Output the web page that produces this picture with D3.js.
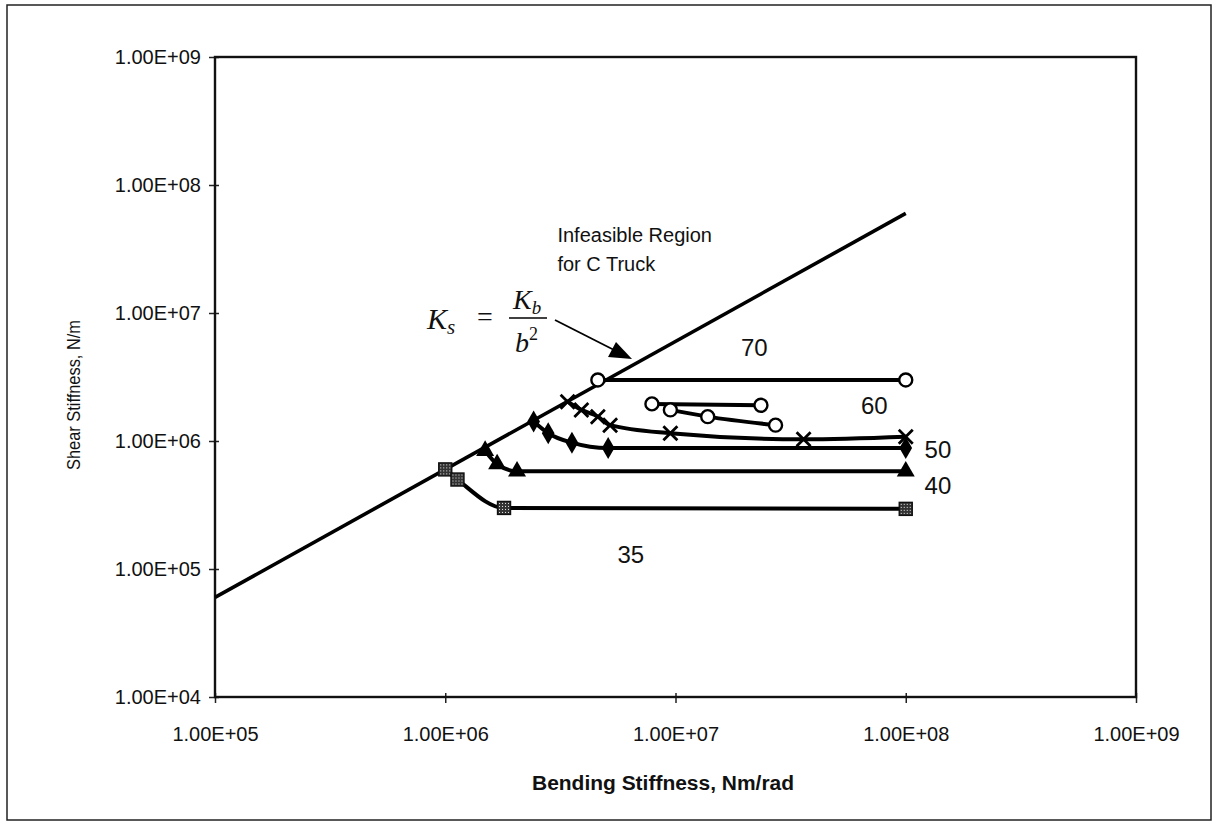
<!DOCTYPE html>
<html>
<head>
<meta charset="utf-8">
<script src="https://cdn.jsdelivr.net/npm/d3@7"></script>
<style>
  body { margin: 0; background: #fff; }
  text { font-family: "Liberation Sans", Arial, sans-serif; fill: #111; }
</style>
</head>
<body>
<div id="chart"></div>
<script>
// boundary line Ks = Kb / b^2
var lineKb = [1e5, 1e8];
var lineKs = [6e4, 6e7];

// curves
var kb70 = [4.6e6, 1e8];
var ks70 = [3.0e6, 3.0e6];
var kb60a = [7.9e6, 2.35e7];
var ks60a = [1.95e6, 1.9e6];
var kb60b = [9.5e6, 1.38e7, 2.72e7];
var ks60b = [1.75e6, 1.55e6, 1.33e6];
var kbX = [3.4e6, 3.9e6, 4.6e6, 5.2e6, 9.5e6, 3.6e7, 1e8];
var ksX = [2.03e6, 1.75e6, 1.55e6, 1.33e6, 1.15e6, 1.03e6, 1.08e6];
var kb50 = [2.42e6, 2.8e6, 3.55e6, 5.1e6, 1e8];
var ks50 = [1.42e6, 1.15e6, 9.7e5, 8.8e5, 8.8e5];
var kb40 = [1.49e6, 1.68e6, 2.05e6, 1e8];
var ks40 = [8.4e5, 6.6e5, 5.8e5, 5.8e5];
var kb35 = [1.0e6, 1.13e6, 1.8e6, 1e8];
var ks35 = [6e5, 5e5, 3e5, 2.95e5];

var xTicks = [1e5, 1e6, 1e7, 1e8, 1e9];
var yTicks = [1e4, 1e5, 1e6, 1e7, 1e8, 1e9];

var curveLabels = ["70", "60", "50", "40", "35"];
var labelKb = [2.2e7, 7.3e7, 1.38e8, 1.38e8, 6.4e6];
var labelKs = [5.4e6, 1.9e6, 8.5e5, 4.5e5, 1.3e5];

var series = [
    {kb: kb70, ks: ks70, m: "circle"},
    {kb: kb60a, ks: ks60a, m: "circle"},
    {kb: kb60b, ks: ks60b, m: "circle"},
    {kb: kbX, ks: ksX, m: "cross"},
    {kb: kb50, ks: ks50, m: "diamond"},
    {kb: kb40, ks: ks40, m: "triangle"},
    {kb: kb35, ks: ks35, m: "square"}
];

var W = 1215, H = 825;
var margin = {top: 57, right: 79, bottom: 128, left: 215};
var width = W - margin.left - margin.right,
    height = H - margin.top - margin.bottom;

var svg = d3.select("#chart").append("svg")
    .attr("width", W)
    .attr("height", H);

// outer chart border
svg.append("rect")
    .attr("x", 7).attr("y", 5)
    .attr("width", 1204).attr("height", 815)
    .attr("fill", "none").attr("stroke", "#222").attr("stroke-width", 1.5);

var defs = svg.append("defs");
var pat = defs.append("pattern")
    .attr("id", "dots")
    .attr("width", 3).attr("height", 3)
    .attr("patternUnits", "userSpaceOnUse");
pat.append("rect").attr("width", 3).attr("height", 3).attr("fill", "#333");
pat.append("rect").attr("x", 1).attr("y", 1).attr("width", 1).attr("height", 1).attr("fill", "#eee");

var g = svg.append("g")
    .attr("transform", "translate(" + margin.left + "," + margin.top + ")");

var x = d3.scaleLog().domain([1e5, 1e9]).range([0, width]);
var y = d3.scaleLog().domain([1e4, 1e9]).range([height, 0]);

function fmtE(d) {
    var e = Math.round(Math.log10(d));
    return "1.00E+" + (e < 10 ? "0" + e : e);
}

var xAxis = g.append("g")
    .attr("transform", "translate(0," + height + ")")
    .call(d3.axisBottom(x).tickValues(xTicks).tickFormat(fmtE).tickSizeInner(6).tickSizeOuter(0).tickPadding(24));
var yAxis = g.append("g")
    .call(d3.axisLeft(y).tickValues(yTicks).tickFormat(fmtE).tickSizeInner(6).tickSizeOuter(0).tickPadding(8));
[xAxis, yAxis].forEach(function(a) {
    a.select(".domain").remove();
    a.selectAll(".tick line").attr("stroke", "#222").attr("stroke-width", 1.5);
    a.selectAll(".tick text")
        .style("font-family", "'Liberation Sans', Arial, sans-serif")
        .style("font-size", "20px")
        .attr("fill", "#111");
});
xAxis.selectAll(".tick line").attr("y1", -4);
yAxis.selectAll(".tick line").attr("x1", 4).attr("x2", -6);

// plot frame
g.append("rect")
    .attr("width", width).attr("height", height)
    .attr("fill", "none").attr("stroke", "#111").attr("stroke-width", 2.4);

// boundary line
g.append("path")
    .datum(lineKb.map(function(d, i) { return [d, lineKs[i]]; }))
    .attr("d", d3.line().x(function(d) { return x(d[0]); }).y(function(d) { return y(d[1]); }))
    .attr("fill", "none").attr("stroke", "#000").attr("stroke-width", 3.6);

var curve = d3.line()
    .x(function(d) { return x(d[0]); })
    .y(function(d) { return y(d[1]); })
    .curve(d3.curveMonotoneX);

series.forEach(function(s) {
    var pts = s.kb.map(function(d, i) { return [d, s.ks[i]]; });
    g.append("path")
        .datum(pts)
        .attr("d", curve)
        .attr("fill", "none").attr("stroke", "#000").attr("stroke-width", 4);

    var mk = g.selectAll(null).data(pts).enter().append("g")
        .attr("transform", function(d) { return "translate(" + x(d[0]) + "," + y(d[1]) + ")"; });
    if (s.m == "circle") {
        mk.append("circle").attr("r", 6.5).attr("fill", "#fff").attr("stroke", "#000").attr("stroke-width", 2.4);
    } else if (s.m == "cross") {
        mk.append("path").attr("d", "M-7,-7L7,7M-7,7L7,-7")
            .attr("stroke", "#000").attr("stroke-width", 2.8);
    } else if (s.m == "diamond") {
        mk.append("path").attr("d", d3.symbol().type(d3.symbolDiamond).size(140)).attr("fill", "#000");
    } else if (s.m == "triangle") {
        mk.append("path").attr("d", d3.symbol().type(d3.symbolTriangle).size(140)).attr("fill", "#000");
    } else {
        mk.append("rect").attr("x", -6.5).attr("y", -6.5).attr("width", 13).attr("height", 13)
            .attr("fill", "url(#dots)").attr("stroke", "#111").attr("stroke-width", 1.4);
    }
});

// curve labels
g.selectAll(".clab").data(curveLabels).enter().append("text")
    .attr("class", "clab")
    .attr("x", function(d, i) { return x(labelKb[i]); })
    .attr("y", function(d, i) { return y(labelKs[i]); })
    .attr("dy", "0.35em")
    .attr("text-anchor", "middle")
    .style("font-size", "24px")
    .text(function(d) { return d; });

// region note
var note = g.append("text")
    .attr("x", x(3.07e6)).attr("y", y(4.1e7))
    .attr("dy", "0.35em")
    .style("font-size", "20px");
note.append("tspan").text("Infeasible Region");
note.append("tspan").attr("x", x(3.07e6)).attr("dy", "1.45em").text("for C Truck");

// formula Ks = Kb / b^2
var fx = 427 - margin.left, fy = 318 - margin.top;
var ff = "'Liberation Serif', 'Times New Roman', serif";
var fm = g.append("g").attr("transform", "translate(" + fx + "," + fy + ")");
fm.append("text").attr("x", 0).attr("y", 11)
    .style("font-family", ff).style("font-style", "italic").style("font-size", "30px")
    .html("K<tspan dy='5' font-size='21'>s</tspan>");
fm.append("text").attr("x", 50).attr("y", 8)
    .style("font-family", ff).style("font-size", "28px").text("=");
fm.append("line").attr("x1", 82).attr("x2", 120).attr("y1", 0).attr("y2", 0)
    .attr("stroke", "#000").attr("stroke-width", 1.5);
fm.append("text").attr("x", 86).attr("y", -9)
    .style("font-family", ff).style("font-style", "italic").style("font-size", "28px")
    .html("K<tspan dy='5' font-size='19'>b</tspan>");
fm.append("text").attr("x", 88).attr("y", 34)
    .style("font-family", ff).style("font-style", "italic").style("font-size", "28px")
    .html("b<tspan dy='-12' font-size='18' font-style='normal'>2</tspan>");

// arrow
g.append("line")
    .attr("x1", 555 - margin.left).attr("y1", 320 - margin.top)
    .attr("x2", 620 - margin.left).attr("y2", 353 - margin.top)
    .attr("stroke", "#000").attr("stroke-width", 1.8);
g.append("path")
    .attr("d", "M" + (632 - margin.left) + "," + (359 - margin.top) + "l-24,-2l8,-15z")
    .attr("fill", "#000");

// axis titles
svg.append("text")
    .attr("x", 663).attr("y", 783)
    .attr("dy", "0.35em")
    .attr("text-anchor", "middle")
    .attr("textLength", 262)
    .attr("lengthAdjust", "spacingAndGlyphs")
    .style("font-size", "20px").style("font-weight", "bold")
    .text("Bending Stiffness, Nm/rad");

svg.append("text")
    .attr("transform", "translate(73,395) rotate(-90)")
    .attr("dy", "0.35em")
    .attr("text-anchor", "middle")
    .attr("textLength", 150)
    .attr("lengthAdjust", "spacingAndGlyphs")
    .style("font-size", "19px")
    .text("Shear Stiffness, N/m");
</script>
</body>
</html>
